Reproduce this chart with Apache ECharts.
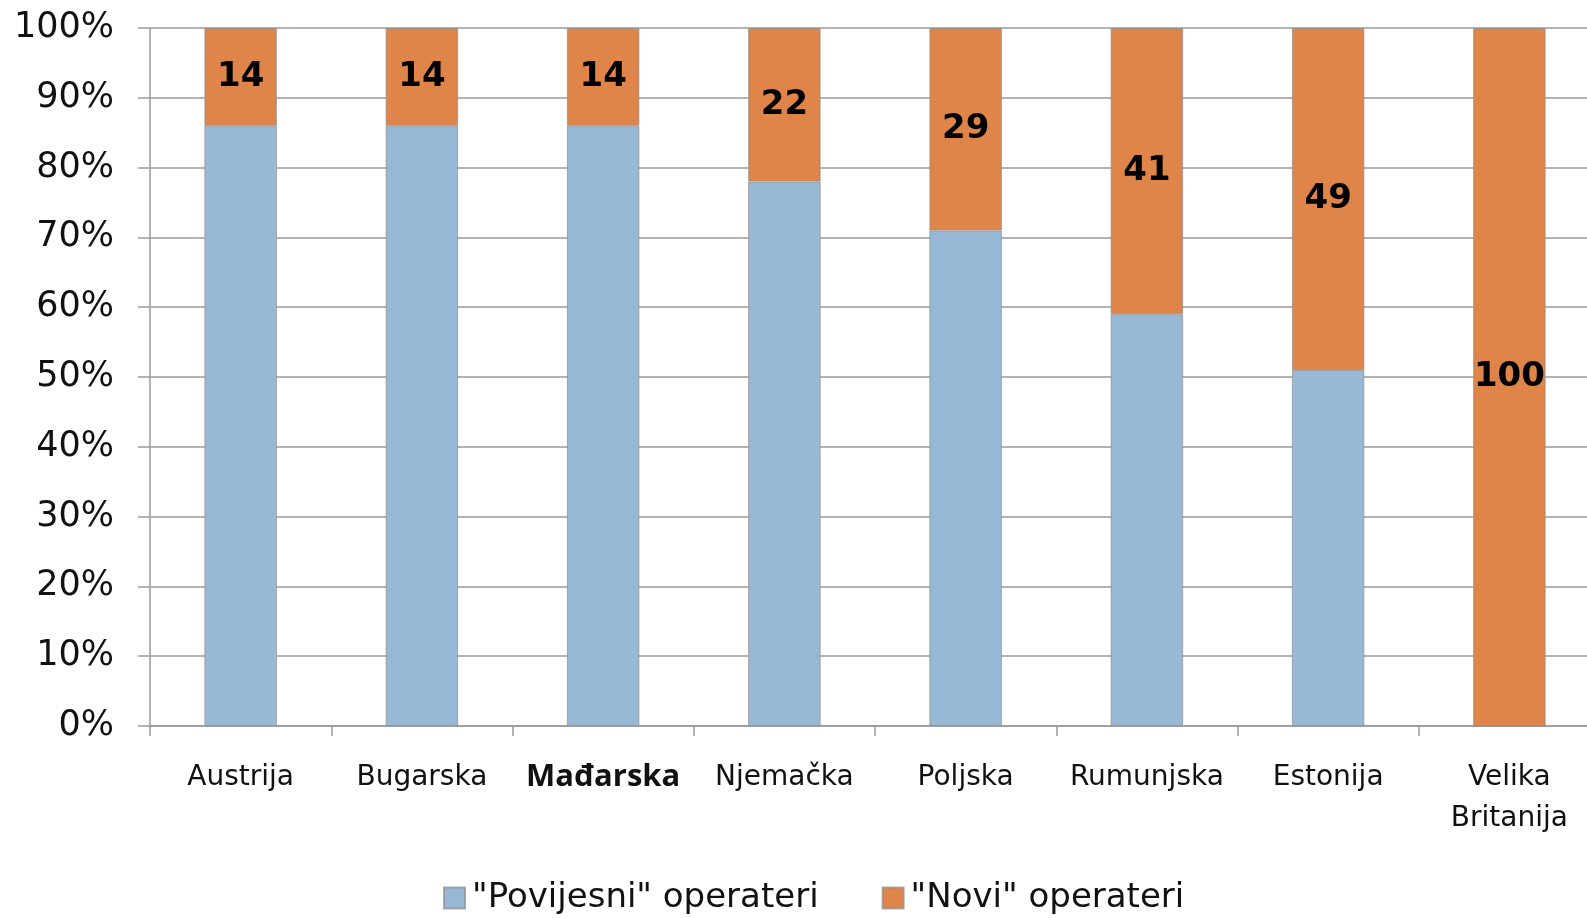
<!DOCTYPE html>
<html>
<head>
<meta charset="utf-8">
<script src="https://cdn.jsdelivr.net/npm/echarts@6/dist/echarts.min.js"></script>
<style>
  html, body { margin: 0; padding: 0; background: #fff; }
  #chart { width: 1587px; height: 918px; }
</style>
</head>
<body>
<div id="chart"></div>
<script>
var countries = ['Austrija', 'Bugarska', 'Mađarska', 'Njemačka', 'Poljska', 'Rumunjska', 'Estonija', 'Velika\nBritanija'];
var oldOperators = [86, 86, 86, 78, 71, 59, 51, 0];
var newOperators = [14, 14, 14, 22, 29, 41, 49, 100];
var yTicks = [0, 10, 20, 30, 40, 50, 60, 70, 80, 90, 100];

var font = '"DejaVu Sans", sans-serif';
var gridColor = '#9a9a9a';

var chart = echarts.init(document.getElementById('chart'));

chart.setOption({
  animation: false,
  grid: { left: 150, width: 1450, top: 28, bottom: 192, containLabel: false, outerBoundsMode: 'none' },
  legend: {
    bottom: -2,
    left: 438,
    itemWidth: 21,
    itemHeight: 21,
    itemGap: 63,
    icon: 'rect',
    textStyle: { fontFamily: font, fontSize: 34, color: '#111', padding: [0, 0, 0, 2] },
    data: ['"Povijesni" operateri', '"Novi" operateri']
  },
  xAxis: {
    type: 'category',
    data: countries,
    axisLine: { lineStyle: { color: gridColor, width: 1.5 } },
    axisTick: { show: true, length: 10, lineStyle: { color: gridColor, width: 1.5 } },
    axisLabel: {
      margin: 31,
      fontFamily: font,
      fontSize: 28,
      color: '#111',
      lineHeight: 41,
      interval: 0,
      formatter: function (v) {
        return v === 'Mađarska' ? '{b|' + v + '}' : v;
      },
      rich: {
        b: { fontFamily: '"Open Sans", sans-serif', fontWeight: 'bold', fontSize: 31, color: '#111' }
      }
    }
  },
  yAxis: {
    type: 'value',
    min: 0,
    max: 100,
    interval: 10,
    axisLine: { show: true, lineStyle: { color: gridColor, width: 1.5 } },
    axisTick: { show: true, length: 12, lineStyle: { color: gridColor, width: 1.5 } },
    splitLine: { show: true, lineStyle: { color: gridColor, width: 1.5 } },
    axisLabel: {
      margin: 36,
      fontFamily: font,
      fontSize: 35,
      color: '#111',
      formatter: function (v) { return yTicks.indexOf(v) >= 0 ? v + '%' : ''; }
    }
  },
  series: [
    {
      name: '"Povijesni" operateri',
      type: 'bar',
      stack: 'total',
      barWidth: '40%',
      data: oldOperators,
      itemStyle: { color: '#98b9d5', borderColor: 'rgba(140,140,140,0.7)', borderWidth: 1 }
    },
    {
      name: '"Novi" operateri',
      type: 'bar',
      stack: 'total',
      barWidth: '40%',
      data: newOperators,
      itemStyle: { color: '#df854a', borderColor: 'rgba(140,140,140,0.7)', borderWidth: 1 },
      label: {
        show: true,
        position: 'inside',
        fontFamily: font,
        fontWeight: 'bold',
        fontSize: 34,
        color: '#000'
      }
    }
  ]
});
</script>
</body>
</html>
